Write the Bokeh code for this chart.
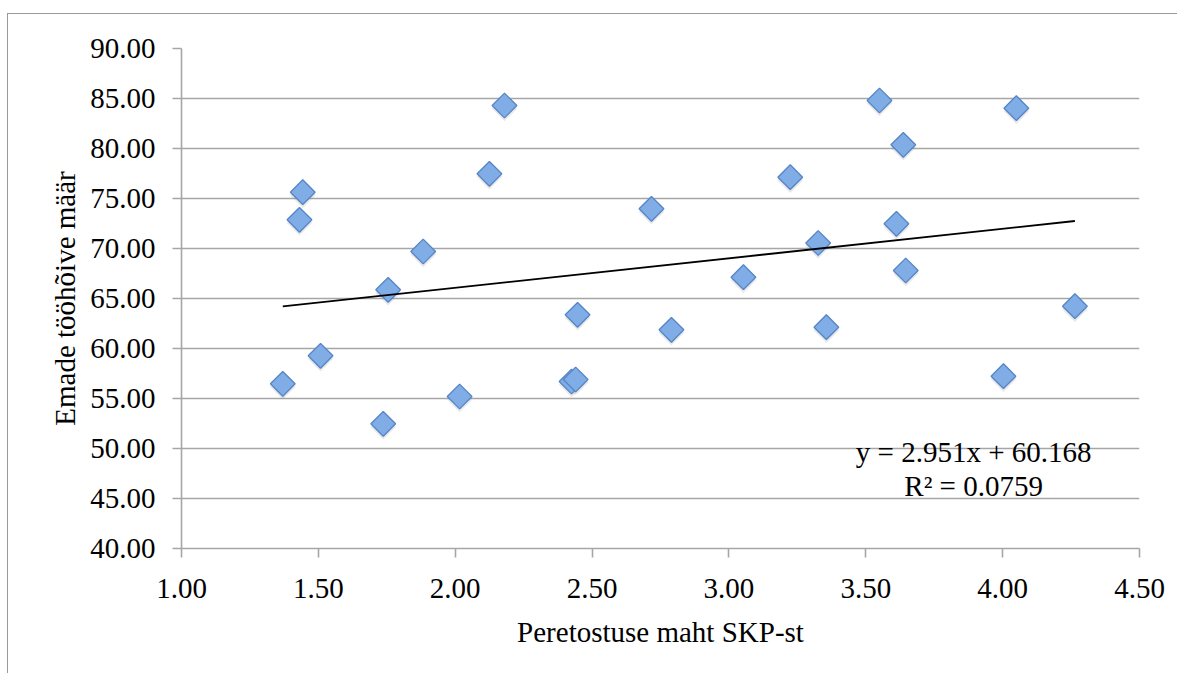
from bokeh.plotting import figure
from bokeh.models import Range1d, FixedTicker, PrintfTickFormatter, Label, ColumnDataSource
from bokeh.embed import file_html
from bokeh.resources import INLINE
import numpy as np

# ---- data ----
spending_gdp = [1.37, 1.431, 1.443, 1.508, 1.737, 1.755, 1.883, 2.016, 2.125, 2.18,
                2.425, 2.44, 2.447, 2.717, 2.79, 3.053, 3.224, 3.326, 3.356, 3.55,
                3.612, 3.637, 3.646, 4.003, 4.05, 4.264]
mothers_employment = [56.47, 72.87, 75.63, 59.27, 52.47, 65.87, 69.7, 55.2, 77.47, 84.3,
                      56.7, 56.9, 63.37, 73.97, 61.87, 67.13, 77.13, 70.55, 62.13, 84.8,
                      72.47, 80.37, 67.8, 57.23, 84.03, 64.23]
trend_slope = 2.951
trend_intercept = 60.168
trend_r2 = 0.0759
x_ticks = [1.0, 1.5, 2.0, 2.5, 3.0, 3.5, 4.0, 4.5]
y_ticks = [40, 45, 50, 55, 60, 65, 70, 75, 80, 85, 90]
x_title = "Peretostuse maht SKP-st"
y_title = "Emade tööhõive määr"

FONT = "Liberation Serif"
GRID = "#a6a6a6"

p = figure(width=1170, height=660, output_backend="svg", toolbar_location=None,
           x_range=Range1d(x_ticks[0], x_ticks[-1]), y_range=Range1d(y_ticks[0], y_ticks[-1]),
           min_border_left=173, min_border_top=34, min_border_right=39, min_border_bottom=126)
p.styles = {"margin-top": "13px", "margin-left": "7px",
            "border-top": "1px solid #9a9a9a", "border-left": "1px solid #9a9a9a"}
p.outline_line_color = None
p.background_fill_color = "white"
p.border_fill_color = "white"

# grid
p.xgrid.visible = False
p.ygrid.grid_line_color = GRID
p.ygrid.grid_line_width = 1.6
p.ygrid.ticker = FixedTicker(ticks=y_ticks)

# axes
for ax in (p.xaxis[0], p.yaxis[0]):
    ax.axis_line_color = GRID
    ax.axis_line_width = 1.6
    ax.major_tick_line_color = GRID
    ax.major_tick_line_width = 1.6
    ax.major_tick_out = 9
    ax.major_tick_in = 0
    ax.minor_tick_line_color = None
    ax.major_label_text_font = FONT
    ax.major_label_text_font_size = "29px"
    ax.major_label_text_color = "black"
    ax.axis_label_text_font = FONT
    ax.axis_label_text_font_size = "29px"
    ax.axis_label_text_font_style = "normal"
    ax.axis_label_text_color = "black"

p.xaxis[0].ticker = FixedTicker(ticks=x_ticks)
p.yaxis[0].ticker = FixedTicker(ticks=y_ticks)
p.xaxis[0].formatter = PrintfTickFormatter(format="%.2f")
p.yaxis[0].formatter = PrintfTickFormatter(format="%.2f")
p.xaxis[0].axis_label = x_title
p.yaxis[0].axis_label = y_title
p.xaxis[0].major_label_standoff = 21
p.xaxis[0].axis_label_standoff = 15
p.yaxis[0].major_label_standoff = 17
p.yaxis[0].axis_label_standoff = 6

src = ColumnDataSource(dict(x=spending_gdp, y=mothers_employment,
                            ys=[v - 0.3 for v in mothers_employment]))

# soft shadow under markers
p.scatter("x", "ys", source=src, marker="square", size=18, angle=np.pi / 4,
          fill_color="#7f7f7f", fill_alpha=0.18, line_color=None)
# markers
p.scatter("x", "y", source=src, marker="square", size=17.5, angle=np.pi / 4,
          fill_color="#80ade6", line_color="#5585c6", line_width=1.3)

# linear trendline
tx = [min(spending_gdp), max(spending_gdp)]
ty = [trend_slope * v + trend_intercept for v in tx]
p.line(tx, ty, line_color="black", line_width=1.8)

eq1 = f"y = {trend_slope:.3f}x + {trend_intercept:.3f}"
eq2 = f"R² = {trend_r2:.4f}"
p.add_layout(Label(x=3.894, y=49.7, text=eq1, text_align="center", text_baseline="alphabetic",
                   text_font=FONT, text_font_size="29px", text_color="black"))
p.add_layout(Label(x=3.894, y=46.3, text=eq2, text_align="center", text_baseline="alphabetic",
                   text_font=FONT, text_font_size="29px", text_color="black"))

open("out.html", "w").write(file_html(p, INLINE))
